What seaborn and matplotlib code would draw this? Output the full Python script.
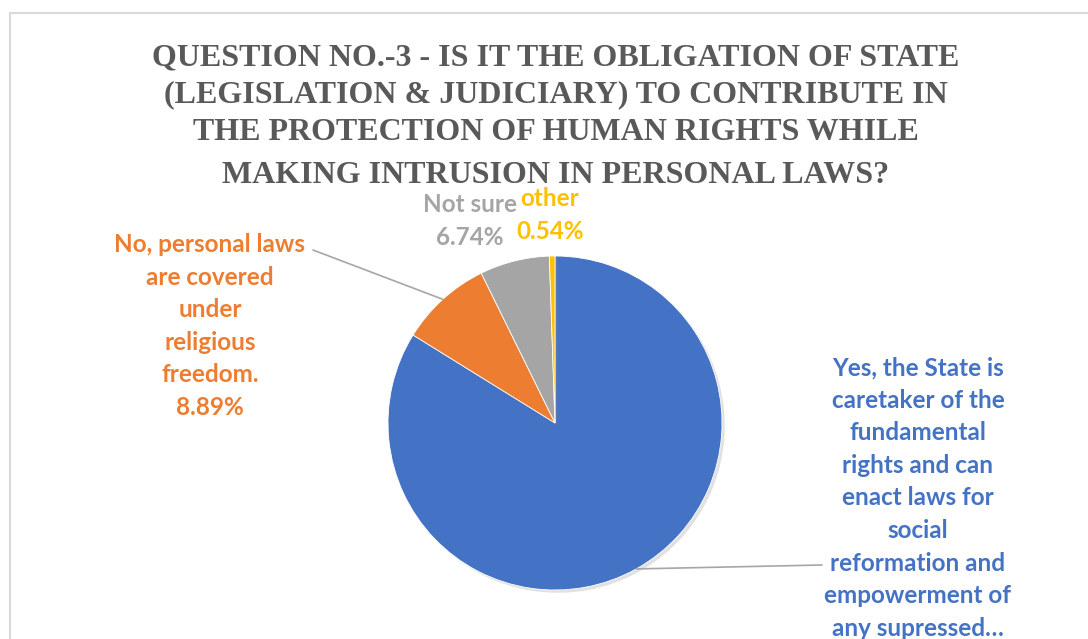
import matplotlib
matplotlib.use("Agg")
import matplotlib.pyplot as plt
import matplotlib.patheffects as pe
from matplotlib.patches import Rectangle
from matplotlib import font_manager as fm
import numpy as np
import seaborn as sns

# Survey responses (percent)
categories = [
    "Yes, the State is\ncaretaker of the\nfundamental\nrights and can\nenact laws for\nsocial\nreformation and\nempowerment of\nany supressed\u2026",
    "No, personal laws\nare covered\nunder\nreligious\nfreedom.",
    "Not sure",
    "other",
]
values = [83.83, 8.89, 6.74, 0.54]
colors = ["#4472C4", "#ED7D31", "#A5A5A5", "#FFC000"]

title_lines = [
    "QUESTION NO.-3 - IS IT THE OBLIGATION OF STATE",
    "(LEGISLATION & JUDICIARY) TO CONTRIBUTE IN",
    "THE PROTECTION OF HUMAN RIGHTS WHILE",
    "MAKING INTRUSION IN PERSONAL LAWS?",
]

sns.set_theme(style="white")
palette = sns.color_palette(colors)

W, H = 1088, 639
fig = plt.figure(figsize=(W / 100, H / 100), dpi=100)
fig.patch.set_facecolor("white")

# pixel-space axes (origin bottom-left)
ax = fig.add_axes([0, 0, 1, 1])


def py(y_top):
    """convert a top-down pixel row to axis y"""
    return H - y_top


cx, cy, r = 555, py(423), 167
wedges, _ = ax.pie(values, colors=palette, startangle=90, counterclock=False,
                   center=(cx, cy), radius=r, frame=True,
                   wedgeprops=dict(linewidth=0.6, edgecolor="white"))
ax.set_xlim(0, W)
ax.set_ylim(0, H)
ax.set_aspect("equal")
ax.axis("off")
for w in wedges:
    w.set_path_effects([pe.SimplePatchShadow(offset=(2, -2), shadow_rgbFace="#888888", alpha=0.25),
                        pe.Normal()])

# chart border
ax.add_patch(Rectangle((10, py(700)), 1110, 700 - 13, fill=False,
                       edgecolor="#D9D9D9", linewidth=1.5, zorder=0, clip_on=False))

# title in a serif bold face
serif_path = fm.findfont(fm.FontProperties(family="Liberation Serif", weight="bold"))
title_prop = fm.FontProperties(fname=serif_path, size=23)
for yb, line in zip([65, 102, 140, 183], title_lines):
    ax.text(556, py(yb), line, fontproperties=title_prop, color="#595959",
            ha="center", va="baseline")

sans_path = fm.findfont(fm.FontProperties(family="Lato", weight="bold"))
label_prop = fm.FontProperties(fname=sans_path, size=17.5)
label_kw = dict(fontproperties=label_prop, ha="center", va="top", linespacing=1.505)


def edge_point(w):
    ang = np.deg2rad((w.theta1 + w.theta2) / 2)
    return cx + r * np.cos(ang), cy + r * np.sin(ang)


# Yes label with leader
ex, ey = edge_point(wedges[0])
ax.plot([ex, 822], [ey, py(565)], color="#A6A6A6", lw=1.2, zorder=1)
ax.text(918, py(356), categories[0], color=colors[0], **label_kw)

# No label with leader
ex, ey = edge_point(wedges[1])
ax.plot([ex, 313], [ey, py(250)], color="#A6A6A6", lw=1.2, zorder=1)
ax.text(210, py(233), categories[1] + f"\n{values[1]:.2f}%", color=colors[1], **label_kw)

# Not sure / other labels
ax.text(470, py(193), categories[2] + f"\n{values[2]:.2f}%", color=colors[2], **label_kw)
ax.text(550, py(187), categories[3] + f"\n{values[3]:.2f}%", color=colors[3], **label_kw)

fig.savefig("out.png", dpi=100, facecolor="white")
